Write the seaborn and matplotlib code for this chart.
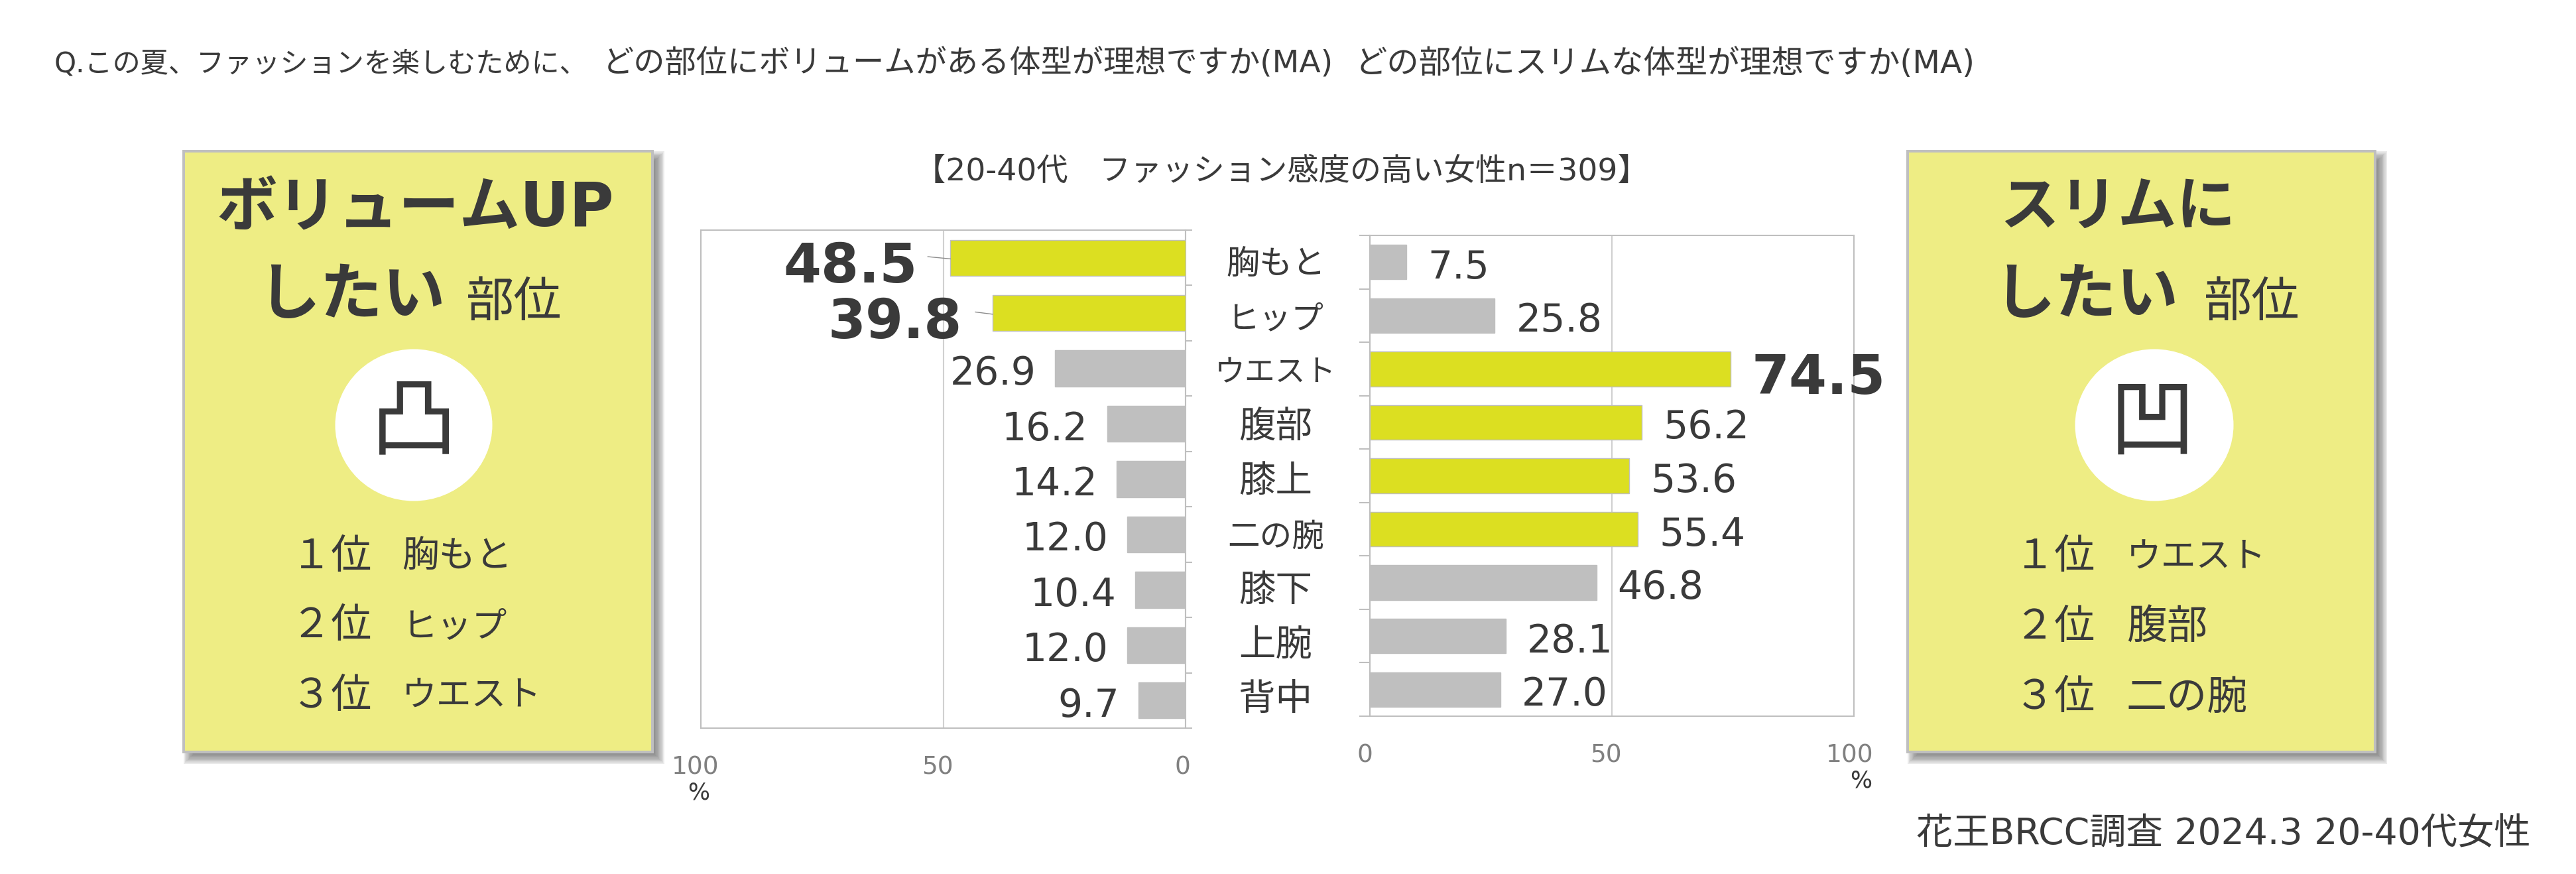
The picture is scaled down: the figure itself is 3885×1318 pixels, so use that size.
import pandas as pd
import matplotlib
matplotlib.use("Agg")
import matplotlib.pyplot as plt
from matplotlib.patches import Rectangle, Ellipse
from matplotlib.transforms import ScaledTranslation
import seaborn as sns

# ---------- data ----------
parts = ["胸もと", "ヒップ", "ウエスト", "腹部", "膝上", "二の腕", "膝下", "上腕", "背中"]
partSizes = [36, 35, 33, 40, 40, 35, 40, 40, 40]
upValues = [48.5, 39.8, 26.9, 16.2, 14.2, 12.0, 10.4, 12.0, 9.7]
slimValues = [7.5, 25.8, 74.5, 56.2, 53.6, 55.4, 46.8, 28.1, 27.0]
upGroup = ["big", "big", "small", "small", "small", "small", "small", "small", "small"]
slimGroup = ["small", "small", "big", "mid", "mid", "mid", "small", "small", "small"]
upRanks = ["胸もと", "ヒップ", "ウエスト"]
upRankSizes = [40, 38, 38]
slimRanks = ["ウエスト", "腹部", "二の腕"]
slimRankSizes = [38, 44, 44]
rankNames = ["１位", "２位", "３位"]
axisTicks = [0, 50, 100]

# ---------- style ----------
sns.set_style("white")
plt.rcParams['font.family'] = ['DejaVu Sans', 'Noto Sans CJK JP']
textColor = "#3A3A3A"
lineColor = "#BFBFBF"
boxColor = "#EEED84"
palette = {"big": "#DCDF21", "mid": "#DCDF21", "small": "#BFBFBF"}
W, H = 3885, 1318
pt = 72 / 100  # px to pt at dpi 100

fig = plt.figure(figsize=(W / 100, H / 100), dpi=100)

# full figure layer in pixel coords for boxes and text
bg = fig.add_axes([0, 0, 1, 1])
bg.set_xlim(0, W)
bg.set_ylim(H, 0)
bg.axis("off")


def put(x, y, s, size, ha="left", weight="normal", color=textColor):
    bg.text(x, y, s, fontsize=size, ha=ha, va="center", color=color, fontweight=weight)


def drawBox(x0, x1, y0, y1):
    # soft shadow made of stacked rectangles
    for k in range(9):
        grow = 9 - 2 * k
        bg.add_patch(Rectangle((x0 + 9 - grow, y0 + 9 - grow), x1 - x0 + 2 * grow, y1 - y0 + 2 * grow,
                               facecolor="#606060", edgecolor="none", alpha=0.13, zorder=1))
    bg.add_patch(Rectangle((x0, y0), x1 - x0, y1 - y0, facecolor=boxColor, edgecolor=lineColor,
                           linewidth=4 * pt, zorder=2))


# ---------- header ----------
put(82, 96, "Q.この夏、ファッションを楽しむために、", 30.3)
put(909, 96, "どの部位にボリュームがある体型が理想ですか(MA)", 34)
put(2044, 96, "どの部位にスリムな体型が理想ですか(MA)", 34.8)
put(1933, 259, "【20-40代　ファッション感度の高い女性n＝309】", 34, ha="center")
put(3817, 1258, "花王BRCC調査 2024.3 20-40代女性", 39.8, ha="right")

# ---------- left box ----------
drawBox(277, 984, 228, 1134)
put(626, 315, "ボリュームUP", 66, ha="center", weight="bold")
put(388, 448, "したい", 68, weight="bold")
put(703, 457, "部位", 52)
bg.add_patch(Ellipse((624, 641), 237, 229, facecolor="white", edgecolor="none", zorder=3))
bg.text(624, 640, "凸", fontsize=94, ha="center", va="center", color=textColor, zorder=4)
for name, part, size, y in zip(rankNames, upRanks, upRankSizes, [840, 945, 1050]):
    put(561, y, name, 44, ha="right")
    put(606, y, part, size)

# ---------- right box ----------
drawBox(2877, 3582, 228, 1134)
put(3016, 315, "スリムに", 64, weight="bold")
put(3006, 447, "したい", 67, weight="bold")
put(3324, 457, "部位", 52)
bg.add_patch(Ellipse((3249, 641), 239, 229, facecolor="white", edgecolor="none", zorder=3))
bg.text(3246, 640, "凹", fontsize=94, ha="center", va="center", color=textColor, zorder=4)
for name, part, size, y in zip(rankNames, slimRanks, slimRankSizes, [841, 946, 1053]):
    put(3160, y, name, 44, ha="right")
    put(3207, y, part, size)

# ---------- category labels between the charts ----------
for i, (part, size) in enumerate(zip(parts, partSizes)):
    put(1924, 399 + i * 82.1, part, size, ha="center")


# ---------- bar charts ----------
def drawChart(rect, values, group, flip, tickShift):
    x0, x1, y0, y1 = rect
    ax = fig.add_axes([x0 / W, 1 - y1 / H, (x1 - x0) / W, (y1 - y0) / H])
    df = pd.DataFrame({"part": parts, "value": values, "group": group})
    sns.barplot(data=df, y="part", x="value", hue="group", palette=palette, dodge=False, width=0.65,
                saturation=1, edgecolor=lineColor, linewidth=1, legend=False, ax=ax, zorder=3)
    ax.set_xlim(100, 0) if flip else ax.set_xlim(0, 100)
    ax.set_ylim(8.5, -0.5)
    ax.set_xlabel("")
    ax.set_ylabel("")
    ax.set_axisbelow(True)
    ax.xaxis.grid(True, color="#D0D0D0", linewidth=1.5)
    ax.yaxis.grid(False)
    for s in ax.spines.values():
        s.set_color(lineColor)
        s.set_linewidth(1.5)

    ax.set_xticks(axisTicks)
    ax.set_xticklabels([str(t) for t in axisTicks], fontsize=27, color="#808080")
    ax.tick_params(axis="x", length=0, pad=30)
    for lab, shift in zip(ax.get_xticklabels(), tickShift):
        lab.set_transform(lab.get_transform() + ScaledTranslation(shift / 100, 0, fig.dpi_scale_trans))

    # separators between the rows, no labels
    ax.set_yticks([])
    ax.set_yticks([i - 0.5 for i in range(10)], minor=True)
    if flip:
        ax.yaxis.tick_right()
        ax.tick_params(axis="y", which="minor", length=7, width=1.5, color=lineColor, left=False, right=True)
    else:
        ax.tick_params(axis="y", which="minor", length=11.5, width=1.5, color=lineColor, left=True)

    # value labels
    for i, (v, g) in enumerate(zip(values, group)):
        big = g == "big"
        if flip:
            gap = 50 if i == 0 else 46 if big else 29
        else:
            gap = 32
        ax.annotate(f"{v:.1f}", (v, i), xytext=((-gap if flip else gap) * pt, (-15 if big else -8) * pt),
                    textcoords="offset points", ha="right" if flip else "left", va="center", color=textColor,
                    annotation_clip=False, fontsize=59 if big else 42, fontweight="bold" if big else "normal",
                    zorder=5)
    return ax


axUp = drawChart((1057, 1788, 347, 1098), upValues, upGroup, True, [-5, -9, -8])
axSlim = drawChart((2066, 2796, 355, 1080), slimValues, slimGroup, False, [-8, -9, -6])

# thin leader lines on the two bold left labels
for i, leaderLen in [(0, 4.7), (1, 3.6)]:
    axUp.plot([upValues[i] + leaderLen, upValues[i]], [i - 0.02, i + 0.02], color="#8C8C8C", linewidth=1, zorder=4)

put(1054, 1196, "%", 25, ha="center")
put(2807, 1178, "%", 25, ha="center")

fig.savefig("out.png", dpi=100, facecolor="white")
